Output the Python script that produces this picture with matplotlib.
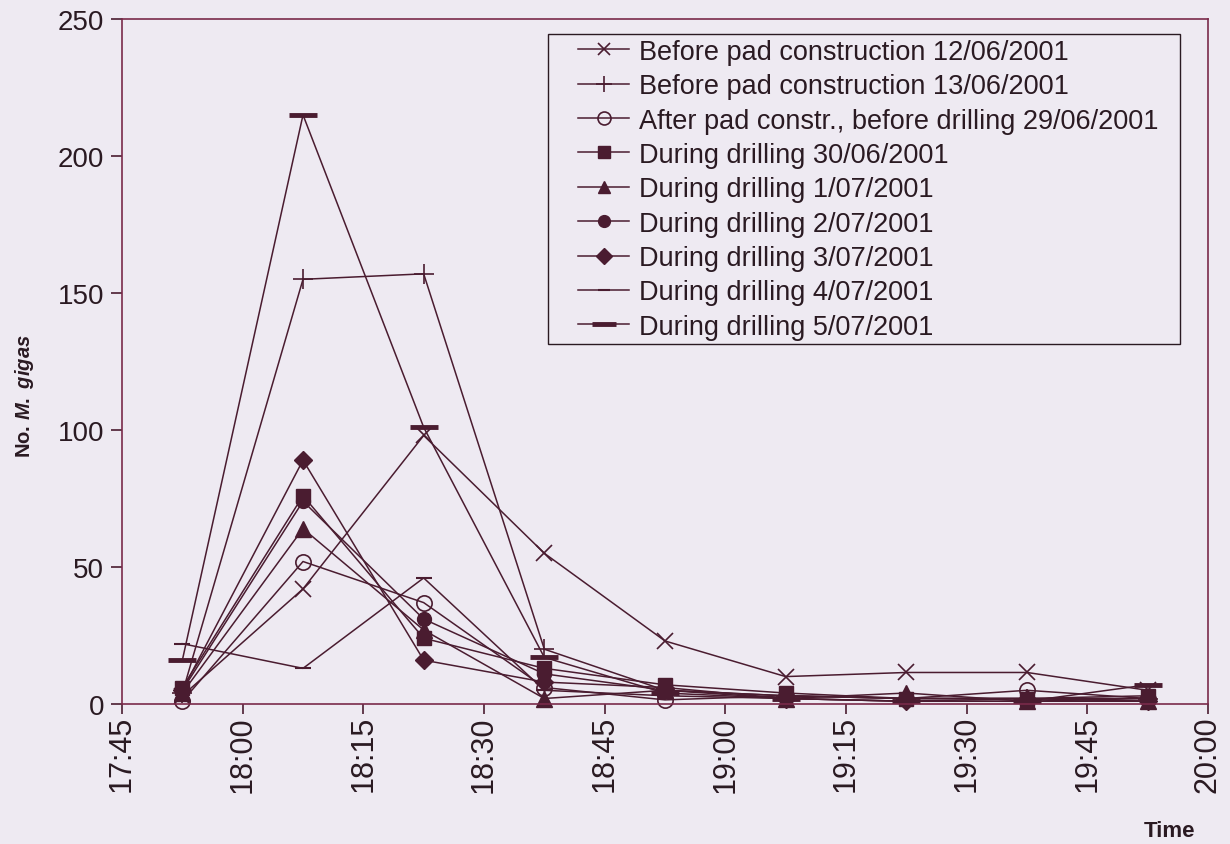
# Emergence counts of M. gigas at dusk, before and during drilling.
import matplotlib
matplotlib.use("Agg")
import matplotlib.pyplot as plt
import matplotlib.dates as mdates
from matplotlib.patches import Rectangle
import pandas as pd

plt.rcParams['font.family'] = ['Liberation Sans', 'DejaVu Sans']
plt.rcParams['mathtext.fontset'] = 'custom'
plt.rcParams['mathtext.it'] = 'Liberation Sans:italic:bold'
plt.rcParams['mathtext.rm'] = 'Liberation Sans:bold'

# Sample times (same every night)
times = ["17:52:30", "18:07:30", "18:22:30", "18:37:30", "18:52:30",
         "19:07:30", "19:22:30", "19:37:30", "19:52:30"]

# Counts
before_12_06 = [3, 42, 98, 55, 23, 10, 11.5, 11.5, 5]
before_13_06 = [4, 155, 157, 20, 5, 3, 2, 2, 2]
after_29_06 = [1, 52, 37, 6, 1.5, 3, 2, 5, 2]
drill_30_06 = [6, 76, 24, 13, 7, 4, 2, 2, 3]
drill_01_07 = [4, 64, 27, 2, 5, 2, 4, 1, 1]
drill_02_07 = [5, 74, 31, 11, 5, 3, 2, 2, 1]
drill_03_07 = [5, 89, 16, 8, 6, 2, 1, 2, 1]
drill_04_07 = [22, 13, 46, 5, 3, 2, 1, 1, 2]
drill_05_07 = [16, 215, 101, 17, 4, 2, 1, 1, 7]

labels = ["Before pad construction 12/06/2001",
          "Before pad construction 13/06/2001",
          "After pad constr., before drilling 29/06/2001",
          "During drilling 30/06/2001",
          "During drilling 1/07/2001",
          "During drilling 2/07/2001",
          "During drilling 3/07/2001",
          "During drilling 4/07/2001",
          "During drilling 5/07/2001"]

series = [before_12_06, before_13_06, after_29_06, drill_30_06, drill_01_07,
          drill_02_07, drill_03_07, drill_04_07, drill_05_07]

# marker, size, face filled?, edge width
styles = [("x", 11, False, 1.2),
          ("+", 14, False, 1.2),
          ("o", 11, False, 1.2),
          ("s", 10, True, 1.0),
          ("^", 11, True, 1.0),
          ("o", 10, True, 1.0),
          ("D", 9, True, 1.0),
          ("_", 11, False, 1.5),
          ("_", 20, False, 3.5)]

x = pd.to_datetime(["2001-06-12 " + t for t in times])

bg = "#eeeaf2"
ink = "#4a1c30"
txt = "#2a1a22"

fig = plt.figure(figsize=(12.3, 8.45), dpi=100, facecolor=bg)
ax = fig.add_axes([0.0992, 0.1657, 0.8829, 0.8106], facecolor=bg)

for y, lab, (m, ms, filled, mew) in zip(series, labels, styles):
    ax.plot(x, y, color=ink, lw=1.1, marker=m, markersize=ms,
            markerfacecolor=ink if filled else "none",
            markeredgecolor=ink, markeredgewidth=mew, label=lab,
            clip_on=False)

ax.set_ylim(0, 250)
ax.set_yticks([0, 50, 100, 150, 200, 250])
ax.set_xlim(pd.Timestamp("2001-06-12 17:45"), pd.Timestamp("2001-06-12 20:00"))
ax.xaxis.set_major_locator(mdates.MinuteLocator(byminute=[0, 15, 30, 45]))
ax.xaxis.set_major_formatter(mdates.DateFormatter("%H:%M"))
ax.tick_params(axis="x", labelrotation=90, labelsize=22, colors=ink,
               length=7, width=1.2, pad=1)
ax.tick_params(axis="y", labelsize=20, colors=ink, length=8, width=1.2,
               pad=5)
for lbl in ax.get_xticklabels() + ax.get_yticklabels():
    lbl.set_color(txt)

for s in ax.spines.values():
    s.set_color("#7a2a4a")
    s.set_linewidth(1.2)

ax.set_ylabel(r"No. $M.\ gigas$", fontsize=14.5, fontweight="bold",
              color=txt)
ax.yaxis.set_label_coords(-0.079, 0.451)
fig.text(0.951, 0.010, "Time", fontsize=16, fontweight="bold",
         color=txt, ha="center")

# legend box drawn separately so its padding can match the original
ax.add_patch(Rectangle((0.3923, 0.5255), 0.5819, 0.4525,
                       transform=ax.transAxes, facecolor=bg,
                       edgecolor=txt, lw=1.0, zorder=4))
leg = ax.legend(loc="upper right", bbox_to_anchor=(0.9567, 0.9752),
                borderaxespad=0, fontsize=19.5, frameon=False,
                handlelength=1.9, handletextpad=0.35, labelspacing=0.31,
                borderpad=0.1, markerscale=0.85)
leg.set_zorder(5)
for t in leg.get_texts():
    t.set_color(txt)

fig.savefig("out.png", dpi=100, facecolor=bg)
